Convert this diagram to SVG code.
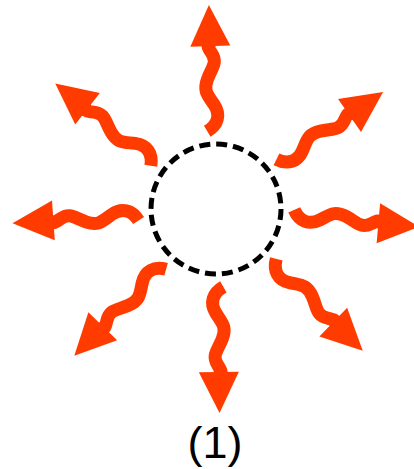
<svg xmlns="http://www.w3.org/2000/svg" width="414" height="469" viewBox="0 0 414 469">
<style>
.shaft{fill:none;stroke:#ff3b00;stroke-width:13;stroke-linejoin:round;stroke-linecap:butt}
.head{fill:#ff3b00}
.ring{fill:none;stroke:#000;stroke-width:5;stroke-dasharray:11 6}
.lbl{font-family:"Liberation Sans",Arial,sans-serif;font-size:45px;fill:#000}
</style>
<defs>
<g id="ray">
<path class="shaft" d="M78,-6 C84,5 94,8 104,2 S118,-9 130,-4 S146,7 156,1 S162,-1 167,0"/>
<polygon class="head" points="204,0 163,-20 163,20"/>
</g>
</defs>
<g id="center">
<circle class="ring" cx="216" cy="209" r="65"/>
</g>
<g id="connectors">
<g id="ray-n"><use href="#ray" transform="translate(216,209) rotate(-92)"/></g>
<g id="ray-ne"><use href="#ray" transform="translate(216,209) rotate(-35)"/></g>
<g id="ray-e"><use href="#ray" transform="translate(216,209) rotate(5)"/></g>
<g id="ray-se"><use href="#ray" transform="translate(216,209) rotate(44)"/></g>
<g id="ray-s"><use href="#ray" transform="translate(216,209) rotate(89)"/></g>
<g id="ray-sw"><use href="#ray" transform="translate(216,209) rotate(134)"/></g>
<g id="ray-w"><use href="#ray" transform="translate(216,209) rotate(176)"/></g>
<g id="ray-nw"><use href="#ray" transform="translate(216,209) rotate(218)"/></g>
</g>
<g id="label">
<text class="lbl" x="215" y="458" text-anchor="middle">(1)</text>
</g>
</svg>
